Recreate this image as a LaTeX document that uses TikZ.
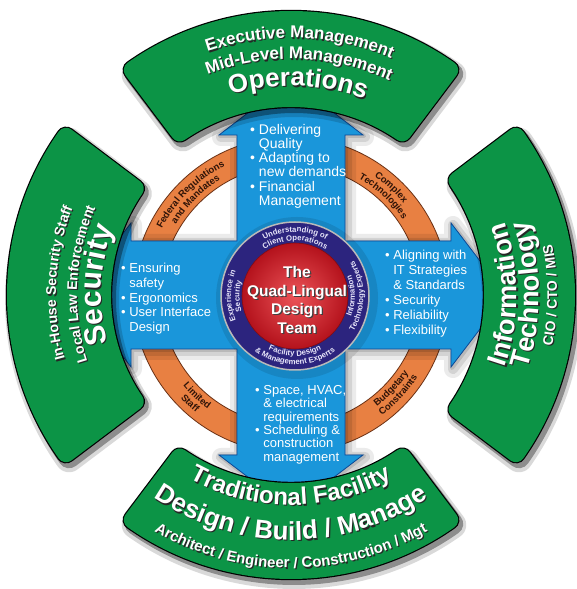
\documentclass[tikz,border=0pt]{standalone}
\usepackage{fontspec}
\setmainfont{Liberation Sans}
\usepackage{tikz}
\usetikzlibrary{calc, decorations.text}

\definecolor{ringgreen}{RGB}{12,148,70}
\definecolor{armblue}{RGB}{26,150,218}
\definecolor{armedge}{RGB}{12,72,150}
\definecolor{bandorange}{RGB}{232,128,66}
\definecolor{bandedge}{RGB}{105,48,20}
\definecolor{bandtext}{RGB}{48,20,8}
\definecolor{hubnavy}{RGB}{44,36,126}
\definecolor{hubletter}{RGB}{232,230,250}
\definecolor{redlight}{RGB}{236,84,88}
\definecolor{reddark}{RGB}{180,18,28}

\tikzstyle{segment} = [fill=ringgreen, line join=round,
  preaction={draw=black, opacity=.15, line width=28pt, line join=round, transform canvas={xshift=3pt, yshift=-5pt}},
  preaction={draw=black, opacity=.35, line width=22pt, line join=round, transform canvas={xshift=3pt, yshift=-4pt}},
  preaction={draw=black, line width=20.4pt, line join=round},
  postaction={draw=ringgreen, line width=18pt, line join=round}]
\tikzstyle{crossarm} = [fill=armblue, draw=armedge, line width=.8pt,
  preaction={draw=black, opacity=.08, line width=18pt, line join=round, transform canvas={xshift=2pt, yshift=-2pt}},
  preaction={draw=black, opacity=.1, line width=10pt, line join=round, transform canvas={xshift=2pt, yshift=-2pt}},
  preaction={draw=black, opacity=.12, line width=4pt, line join=round, transform canvas={xshift=1pt, yshift=-1pt}}]
\tikzstyle{hubring} = [fill=hubnavy, draw=gray!55, line width=1.5pt,
  preaction={draw=black, opacity=.1, line width=14pt, transform canvas={xshift=2pt, yshift=-2pt}}]
\tikzstyle{armtext} = [anchor=north west, inner sep=0pt, align=left, text=white]
\tikzstyle{hubtext} = [align=center, inner sep=0pt, font=\bfseries\fontsize{15.5}{18.5}\selectfont]

\newcommand{\bul}{\textbullet\ }
\newcommand{\ind}{\phantom{\textbullet\ }}

% text bent round a centre, read clockwise (letters point outward)
\newcommand{\arcout}[6]{%
  \path[shift={(#1)}, decorate, decoration={text along path, text align=center,
    text color=#4, text={|#5|#6}}]
    (#2+80:#3pt) arc[start angle=#2+80, end angle=#2-80, radius=#3pt];}
% same, read anticlockwise (letters point inward)
\newcommand{\arcin}[6]{%
  \path[shift={(#1)}, decorate, decoration={text along path, text align=center,
    text color=#4, text={|#5|#6}}]
    (#2-80:#3pt) arc[start angle=#2-80, end angle=#2+80, radius=#3pt];}

% white lettering with a dark drop on the green ring
\newcommand{\greenout}[4]{%
  \arcout{Cs}{#1}{#2}{black!85}{\bfseries\fontsize{#3}{#3}\selectfont}{#4}
  \arcout{C}{#1}{#2}{white}{\bfseries\fontsize{#3}{#3}\selectfont}{#4}}
\newcommand{\greenin}[4]{%
  \arcin{Cs}{#1}{#2}{black!85}{\bfseries\fontsize{#3}{#3}\selectfont}{#4}
  \arcin{C}{#1}{#2}{white}{\bfseries\fontsize{#3}{#3}\selectfont}{#4}}

% one block of the outer ring: mid angle, inner radius
\newcommand{\greenseg}[2]{%
  \pgfmathsetmacro{\segro}{275}%
  \pgfmathsetmacro{\segri}{#2+9}%
  \pgfmathsetmacro{\segao}{37-9/\segro*57.3}%
  \pgfmathsetmacro{\segai}{37-9/\segri*57.3}%
  \path[segment, shift={(C)}] (#1+\segao:\segro pt)
    arc[start angle=#1+\segao, end angle=#1-\segao, radius=\segro pt]
    -- (#1-\segai:\segri pt)
    arc[start angle=#1-\segai, end angle=#1+\segai, radius=\segri pt] -- cycle;}

\newcommand{\bandfont}{\bfseries\fontsize{9.5}{9.5}\selectfont}
\newcommand{\hubfont}{\bfseries\fontsize{7.8}{7.8}\selectfont}

\begin{document}
\begin{tikzpicture}[x=1pt, y=1pt]
\useasboundingbox[fill=white] (0,0) rectangle (576,589);
\coordinate (C) at (291,294);
\coordinate (Cs) at (292.2,292.8);
\coordinate (H) at (295,293);

% orange band under the arrows
\path[shift={(C)}, fill=bandorange, draw=bandedge, line width=.8pt, even odd rule]
  (0,0) circle[radius=158pt] (0,0) circle[radius=130pt];

% four-way arrow
\path[crossarm, shift={(C)}] (54,54) -- (54,160) -- (72,160) -- (0,215) -- (-72,160)
  -- (-54,160) -- (-54,54) -- (-160,54) -- (-160,72) -- (-215,0) -- (-160,-72)
  -- (-160,-54) -- (-54,-54) -- (-54,-160) -- (-72,-160) -- (0,-215) -- (72,-160)
  -- (54,-160) -- (54,-54) -- (160,-54) -- (160,-72) -- (215,0) -- (160,72)
  -- (160,54) -- cycle;

\arcout{C}{135}{145}{bandtext}{\bandfont}{Federal Regulations}
\arcout{C}{135}{135}{bandtext}{\bandfont}{and Mandates}
\arcout{C}{47}{145}{bandtext}{\bandfont}{Complex}
\arcout{C}{47}{135}{bandtext}{\bandfont}{Technologies}
\arcin{C}{227}{141}{bandtext}{\bandfont}{Limited}
\arcin{C}{227}{151}{bandtext}{\bandfont}{Staff}
\arcin{C}{317}{141}{bandtext}{\bandfont}{Budgetary}
\arcin{C}{317}{151}{bandtext}{\bandfont}{Constraints}

% hub
\path[hubring] (H) circle[radius=74pt];
\shade[inner color=redlight, outer color=reddark] (H) circle[radius=53pt];
\draw[reddark!70!black, line width=.6pt] (H) circle[radius=53pt];

\arcout{H}{90}{64}{hubletter}{\hubfont}{Understanding of}
\arcout{H}{90}{55.5}{hubletter}{\hubfont}{Client Operations}
\arcout{H}{180}{64}{hubletter}{\hubfont}{Experience in}
\arcout{H}{180}{55.5}{hubletter}{\hubfont}{Security}
\arcin{H}{0}{60}{hubletter}{\hubfont}{Information}
\arcin{H}{0}{68.5}{hubletter}{\hubfont}{Technology Experts}
\arcin{H}{270}{60}{hubletter}{\hubfont}{Facility Design}
\arcin{H}{270}{68.5}{hubletter}{\hubfont}{{\&} Management Experts}

\node[hubtext, text=black!75] (hubShade) at (298.2,287.8) {The\\Quad-Lingual\\Design\\Team};
\node[hubtext, text=white] (hubTitle) at (297,289) {The\\Quad-Lingual\\Design\\Team};

% outer ring
\greenseg{90}{188}
\greenseg{180}{180}
\greenseg{0}{193}
\greenseg{270}{188}

\greenout{88}{257}{17}{Executive Management}
\greenout{88}{236}{17}{Mid-Level Management}
\greenout{88}{209}{26}{Operations}
\greenout{177}{235}{14}{In-House Security Staff}
\greenout{177}{214}{14}{Local Law Enforcement}
\greenout{177}{190}{30}{Security}
\greenin{0}{226}{27}{Information}
\greenin{0}{248}{27}{Technology}
\greenin{0}{266}{14}{CIO / CTO / MIS}
\greenin{270}{210}{24}{Traditional Facility}
\greenin{270}{245}{26}{Design / Build / Manage}
\greenin{270}{273}{15}{Architect / Engineer / Construction / Mgt}

% lists on the arrow arms
\node[armtext, font=\fontsize{14}{14.2}\selectfont] (opsList) at (250,465)
  {\bul Delivering\\\ind Quality\\\bul Adapting to\\\ind new demands\\\bul Financial\\\ind Management};
\node[armtext, font=\fontsize{13}{14.7}\selectfont] (secList) at (121,326)
  {\bul Ensuring\\\ind safety\\\bul Ergonomics\\\bul User Interface\\\ind Design};
\node[armtext, font=\fontsize{13}{15}\selectfont] (itList) at (385,339)
  {\bul Aligning with\\\ind IT Strategies\\\ind \& Standards\\\bul Security\\\bul Reliability\\\bul Flexibility};
\node[armtext, font=\fontsize{13}{13.4}\selectfont] (fmList) at (255,204)
  {\bul Space, HVAC,\\\ind \& electrical\\\ind requirements\\\bul Scheduling \&\\\ind construction\\\ind management};
\end{tikzpicture}
\end{document}
